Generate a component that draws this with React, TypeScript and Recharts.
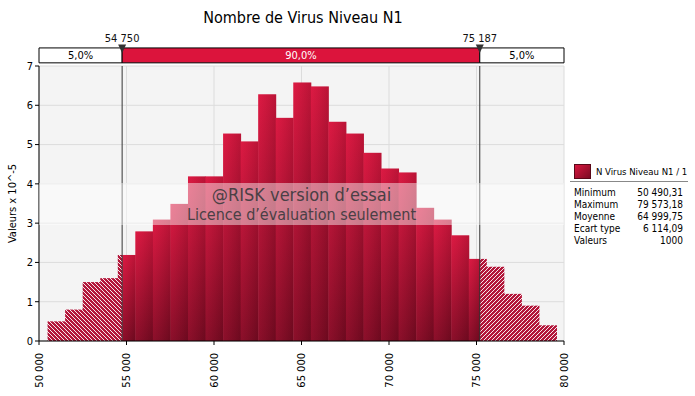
import React from 'react';
import { Bar, CartesianGrid, ComposedChart, ReferenceArea, ReferenceDot, ReferenceLine, XAxis, YAxis } from 'recharts';

const binLow = [50490, 51493, 52496, 53499, 54502, 55505, 56507, 57510, 58513, 59516, 60519, 61522, 62525, 63527, 64530,
  65533, 66536, 67539, 68542, 69545, 70547, 71550, 72553, 73556, 74559, 75562, 76565, 77567, 78570];
const binMax = 79573;
const density = [0.5, 0.8, 1.5, 1.6, 2.19, 2.79, 3.09, 3.49, 4.19, 4.19, 5.28, 5.08, 6.28, 5.68, 6.58,
  6.48, 5.58, 5.28, 4.79, 4.39, 4.29, 3.39, 3.09, 2.69, 2.09, 1.89, 1.2, 0.9, 0.4];

const xTicks = [50000, 55000, 60000, 65000, 70000, 75000, 80000];
const yTicks = [0, 1, 2, 3, 4, 5, 6, 7];
const q05 = 54750;
const q95 = 75187;
const bandLabels = ['5,0%', '90,0%', '5,0%'];
const quantileLabels = ['54 750', '75 187'];

const statNames = ['Minimum', 'Maximum', 'Moyenne', 'Ecart type', 'Valeurs'];
const statValues = ['50 490,31', '79 573,18', '64 999,75', '6 114,09', '1000'];

const BAND_LOW = 7.08;
const BAND_HIGH = 7.46;

const FONT = '"DejaVu Sans Condensed", "DejaVu Sans", sans-serif';

const data = density.map((d, i) => {
  const low = binLow[i];
  const high = i < binLow.length - 1 ? binLow[i + 1] : binMax;
  return { mid: (low + high) / 2, low, high, d };
});

const BarShape = (props: any) => {
  const { x, y, width, height, payload } = props;
  if (!height || height <= 0) return null;
  const { low, high } = payload;
  const px = (v: number) => x + (width * (v - low)) / (high - low);
  const parts: React.ReactNode[] = [];
  let sx = x;
  let ex = x + width;
  if (high <= q05) {
    return <rect x={x} y={y} width={width} height={height} fill="url(#hatchL)" />;
  }
  if (low >= q95) {
    return <rect x={x} y={y} width={width} height={height} fill="url(#hatchR)" />;
  }
  if (low < q05) {
    sx = px(q05);
    parts.push(<rect key="hl" x={x} y={y} width={sx - x} height={height} fill="url(#hatchL)" />);
  }
  if (high > q95) {
    ex = px(q95);
    parts.push(<rect key="hr" x={ex} y={y} width={x + width - ex} height={height} fill="url(#hatchR)" />);
  }
  parts.push(<rect key="s" x={sx} y={y} width={ex - sx} height={height} fill="url(#barGrad)" />);
  parts.push(<rect key="sh" x={sx} y={y} width={ex - sx} height={height} fill="url(#barShade)" />);
  return <g>{parts}</g>;
};

const XTick = (props: any) => {
  const { x, y, payload } = props;
  const label = String(payload.value).replace(/(\d+)(\d{3})$/, '$1 $2');
  return (
    <text x={x} y={y + 6} transform={`rotate(-90, ${x}, ${y + 6})`} textAnchor="end" dy="0.36em"
      fontSize={11} fontFamily={FONT} fill="#000">
      {label}
    </text>
  );
};

const Marker = (label: string) => (props: any) => {
  const { cx, cy } = props;
  return (
    <g>
      <polygon points={`${cx - 4},${cy - 3.5} ${cx + 4},${cy - 3.5} ${cx},${cy + 5}`} fill="#333" />
      <text x={cx} y={cy - 6} textAnchor="middle" fontSize={11} fontFamily={FONT} fill="#111">{label}</text>
    </g>
  );
};

export default function App() {
  return (
    <div style={{ position: 'absolute', left: 0, top: 0, width: 695, height: 396, background: '#fff', fontFamily: FONT }}>
      <div style={{ position: 'absolute', left: 0, width: 606, top: 8, textAlign: 'center', fontSize: 16, color: '#000' }}>
        Nombre de Virus Niveau N1
      </div>
      <ComposedChart width={695} height={396} data={data} barCategoryGap={0} barGap={0}
        margin={{ top: 66, right: 131, bottom: 0, left: 0 }}>
        <defs>
          <linearGradient id="barGrad" x1="0" y1="0" x2="0" y2="1">
            <stop offset="0%" stopColor="#d8173f" />
            <stop offset="100%" stopColor="#7c0b23" />
          </linearGradient>
          <linearGradient id="barShade" x1="0" y1="0" x2="1" y2="0">
            <stop offset="0%" stopColor="#ff3060" stopOpacity={0.12} />
            <stop offset="100%" stopColor="#000" stopOpacity={0.14} />
          </linearGradient>
          <pattern id="hatchL" width="4" height="4" patternUnits="userSpaceOnUse">
            <rect width="4" height="4" fill="#b3163a" />
            <path d="M-1,-1 L5,5 M-1,3 L1,5 M3,-1 L5,1" stroke="#fff" strokeWidth={0.9} />
          </pattern>
          <pattern id="hatchR" width="4" height="4" patternUnits="userSpaceOnUse">
            <rect width="4" height="4" fill="#b3163a" />
            <path d="M-1,5 L5,-1 M-1,1 L1,-1 M3,5 L5,3" stroke="#fff" strokeWidth={0.9} />
          </pattern>
        </defs>
        <CartesianGrid fill="#f4f4f4" stroke="#dcdcdc" horizontalValues={yTicks} verticalValues={xTicks} />
        <XAxis type="number" dataKey="mid" domain={[50000, 80000]} ticks={xTicks} allowDataOverflow
          height={55} axisLine={{ stroke: '#000' }} tickLine={{ stroke: '#000' }} tickSize={4} tick={<XTick />} interval={0} />
        <YAxis type="number" domain={[0, 7]} ticks={yTicks} width={39} interval={0}
          axisLine={{ stroke: '#000' }} tickLine={{ stroke: '#000' }} tickSize={4}
          tick={{ fontSize: 11, fill: '#000', fontFamily: FONT }}
          label={{
            content: ({ viewBox }: any) => {
              const cx = viewBox.x + 12;
              const cy = viewBox.y + viewBox.height / 2;
              return (
                <text x={cx} y={cy} transform={`rotate(-90, ${cx}, ${cy})`} textAnchor="middle" dy="0.35em"
                  fontSize={11} fontFamily={FONT} fill="#000">Valeurs x 10^-5</text>
              );
            },
          }} />
        <Bar dataKey="d" isAnimationActive={false} shape={<BarShape />} />
        <ReferenceLine x={q05} stroke="#333" ifOverflow="visible" />
        <ReferenceLine x={q95} stroke="#333" ifOverflow="visible" />
        <ReferenceArea x1={50000} x2={q05} y1={BAND_LOW} y2={BAND_HIGH} ifOverflow="visible" fill="#fff" fillOpacity={1}
          stroke="#000" label={{ value: bandLabels[0], position: 'center', fontSize: 11, fill: '#000', fontFamily: FONT }} />
        <ReferenceArea x1={q05} x2={q95} y1={BAND_LOW} y2={BAND_HIGH} ifOverflow="visible" fill="#dc143c" fillOpacity={1}
          stroke="#000" label={{ value: bandLabels[1], position: 'center', fontSize: 11, fill: '#fff', fontFamily: FONT }} />
        <ReferenceArea x1={q95} x2={80000} y1={BAND_LOW} y2={BAND_HIGH} ifOverflow="visible" fill="#fff" fillOpacity={1}
          stroke="#000" label={{ value: bandLabels[2], position: 'center', fontSize: 11, fill: '#000', fontFamily: FONT }} />
        <ReferenceDot x={q05} y={BAND_HIGH} ifOverflow="visible" shape={Marker(quantileLabels[0])} />
        <ReferenceDot x={q95} y={BAND_HIGH} ifOverflow="visible" shape={Marker(quantileLabels[1])} />
      </ComposedChart>
      <div style={{ position: 'absolute', left: 39, top: 183, width: 525, height: 42, background: 'rgba(255,255,255,0.45)',
        color: '#4a4045', textAlign: 'center', lineHeight: 1 }}>
        <div style={{ fontSize: 18, marginTop: 3 }}>@RISK version d’essai</div>
        <div style={{ fontSize: 16, marginTop: 3 }}>Licence d’évaluation seulement</div>
      </div>
      <div style={{ position: 'absolute', left: 570, top: 163, width: 118, fontSize: 10, color: '#000', whiteSpace: 'nowrap' }}>
        <div style={{ display: 'flex', alignItems: 'center', height: 16, paddingLeft: 4 }}>
          <div style={{ width: 15, height: 13, flex: 'none', background: 'linear-gradient(135deg, #d8173f, #7c0b23)', border: '1px solid #5a0818' }} />
          <span style={{ marginLeft: 5, fontSize: 9.5 }}>N Virus Niveau N1 / 1</span>
        </div>
        <div style={{ borderTop: '1px solid #888', marginTop: 2, paddingTop: 5, paddingLeft: 4, paddingRight: 5 }}>
          {statNames.map((n, i) => (
            <div key={n} style={{ display: 'flex', justifyContent: 'space-between', height: 12, lineHeight: '12px' }}>
              <span>{n}</span>
              <span>{statValues[i]}</span>
            </div>
          ))}
        </div>
      </div>
    </div>
  );
}
